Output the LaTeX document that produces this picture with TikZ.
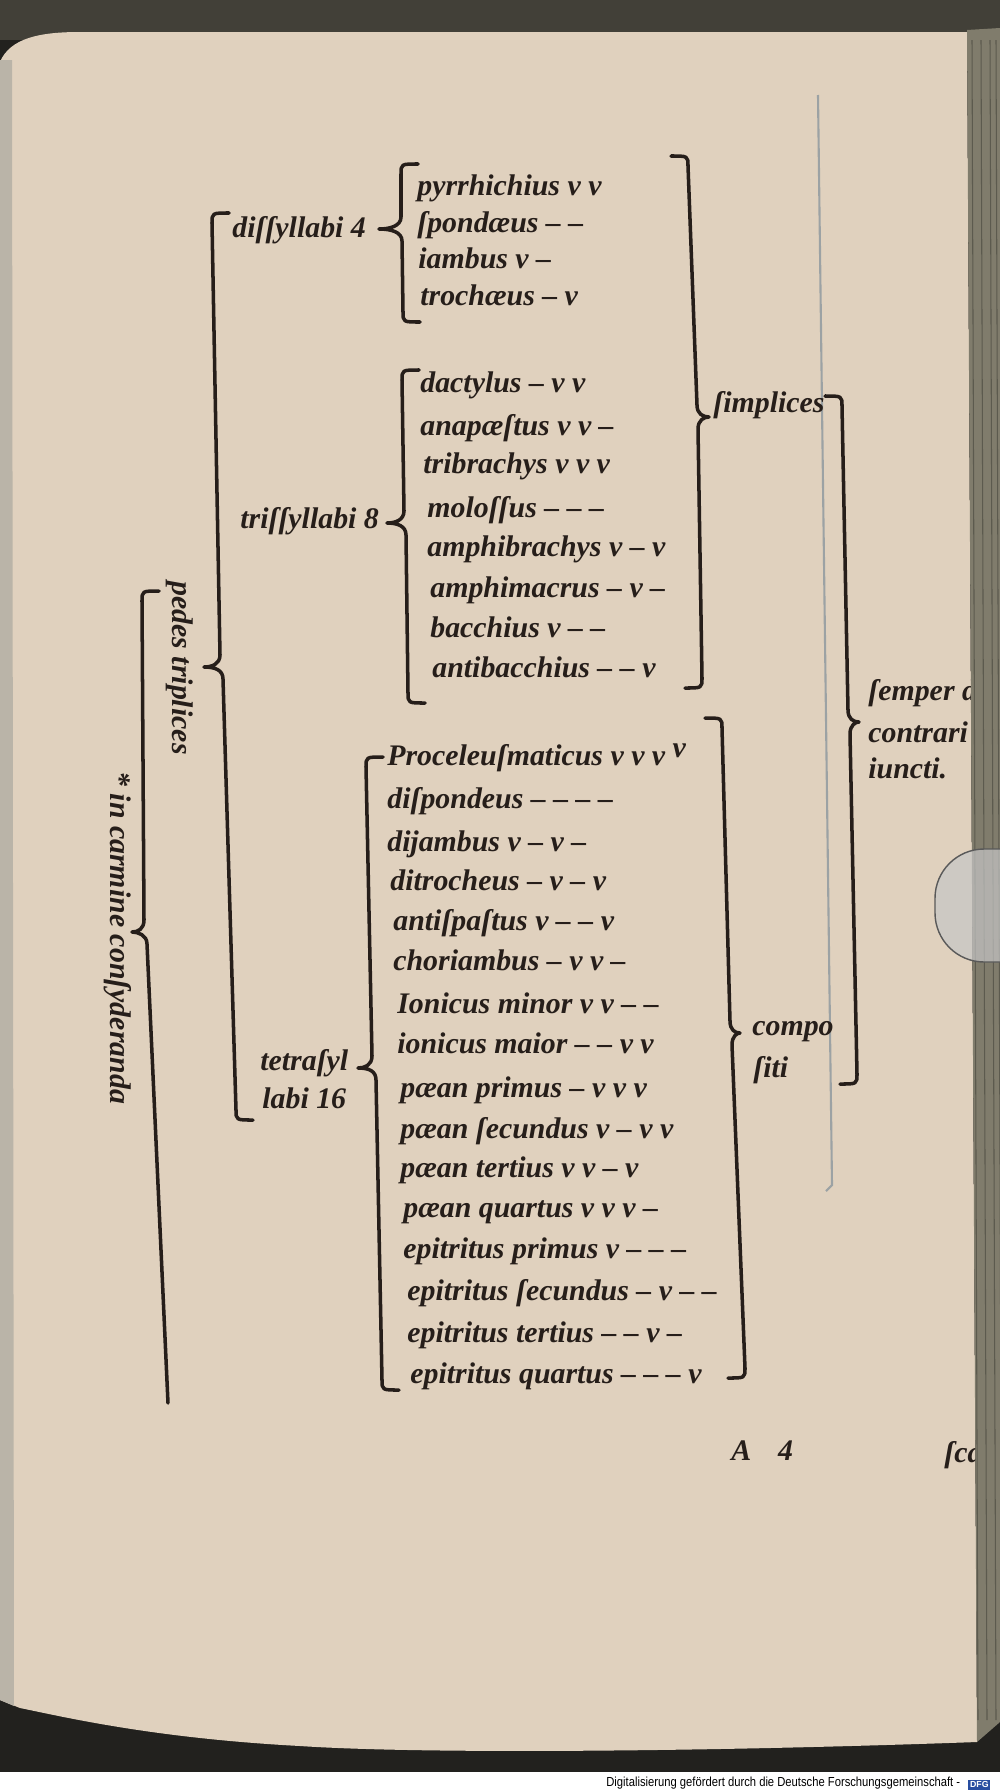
\documentclass[tikz,border=0pt]{standalone}
\usepackage{fontspec}
\setmainfont{Liberation Serif}
\setsansfont{Liberation Sans}
\usepackage{graphicx}
\definecolor{paper}{RGB}{224,209,190}
\definecolor{ink}{RGB}{38,30,26}
\definecolor{darkbg}{RGB}{34,33,30}
\definecolor{topband}{RGB}{66,64,56}
\definecolor{edgegray}{RGB}{128,124,108}
\definecolor{edgeline}{RGB}{92,90,78}
\definecolor{leftedge}{RGB}{186,180,168}
\definecolor{ruleline}{RGB}{156,162,164}
\definecolor{dfgblue}{RGB}{40,78,160}
\newcommand\mybrace[9]{%
  \draw[bracestroke] ({#2-(#1)*17},{#3}) .. controls ({#2},{#3}) .. ({#2},{#3+10})
    -- ({#4},{#5-12}) .. controls ({#4},{#5-3}) and ({#4+(#1)*(#9)*0.5},{#5}) .. ({#4+(#1)*(#9)},{#5})
    .. controls ({#6+(#1)*(#9)*0.5},{#5}) and ({#6},{#5+3}) .. ({#6},{#5+12})
    -- ({#7},{#8-10}) .. controls ({#7},{#8}) .. ({#7-(#1)*17},{#8});}
\begin{document}
\begin{tikzpicture}[x=0.02cm,y=-0.02cm,
  item/.style={anchor=base west, inner sep=0pt, text=ink,
    font=\fontsize{17}{20}\selectfont\bfseries\itshape},
  vtext/.style={item, rotate=-90},
  bracestroke/.style={draw=ink, line width=2pt, line cap=round, line join=round}]
\useasboundingbox (0,0) rectangle (1000,1792);
% page and surroundings
\fill[darkbg] (0,0) rectangle (1000,1792);
\fill[topband] (0,0) rectangle (1000,40);
\fill[paper] (0,62) .. controls (10,38) and (40,32) .. (80,32) -- (967,32) -- (977,1742)
  .. controls (700,1752) and (420,1754) .. (300,1746) .. controls (150,1738) and (60,1716) .. (20,1708)
  -- (0,1700) -- cycle;
\fill[leftedge] (0,60) -- (12,60) -- (14,1706) -- (0,1700) -- cycle;
\fill[white] (0,1772) rectangle (1000,1792);
% faint ruled line
\draw[ruleline, line width=1.2pt] (818,95) -- (832,1185) -- (826,1191);
% braces
\mybrace{-1}{212}{213}{220}{667}{223}{236}{1120}{16}
\draw[bracestroke] (159,591) .. controls (142,591) .. (142,601) -- (144,920)
  .. controls (144,929) and (138,932) .. (132,932) .. controls (138,932) and (147,935) .. (147,944)
  -- (168,1403);
\mybrace{-1}{401}{164}{401}{229}{402}{403}{322}{22}
\mybrace{-1}{402}{370}{404}{523}{406}{408}{703}{17}
\mybrace{-1}{366}{757}{372}{1068}{376}{382}{1390}{14}
\mybrace{1}{688}{156}{697}{417}{698}{702}{688}{12}
\mybrace{1}{722}{718}{730}{1033}{732}{745}{1378}{10}
\mybrace{1}{842}{396}{848}{722}{850}{857}{1084}{11}
% group labels
\node[item] (dis) at (232,237) {diſſyllabi 4};
\node[item] (tri) at (240,528) {triſſyllabi 8};
\node[item] (tetA) at (260,1070) {tetraſyl};
\node[item] (tetB) at (262,1108) {labi 16};
\node[item] (simp) at (713,412) {ſimplices};
\node[item] (compA) at (752,1035) {compo};
\node[item] (compB) at (753,1077) {ſiti};
\node[vtext] (pedes) at (172,581) {pedes triplices};
\node[vtext] (carm) at (110,771) {* in carmine conſyderanda};
% feet
\foreach \nm/\xx/\yy/\tx in {
  a1/417/195/{pyrrhichius v v},
  a2/417/232/{ſpondæus – –},
  a3/418/268/{iambus v –},
  a4/420/305/{trochæus – v},
  b1/420/392/{dactylus – v v},
  b2/420/435/{anapæſtus v v –},
  b3/423/473/{tribrachys v v v},
  b4/427/517/{moloſſus – – –},
  b5/427/556/{amphibrachys v – v},
  b6/430/597/{amphimacrus – v –},
  b7/430/637/{bacchius v – –},
  b8/432/677/{antibacchius – – v},
  c1/387/765/{Proceleuſmaticus v v v \raisebox{4pt}{v}},
  c2/387/808/{diſpondeus – – – –},
  c3/387/851/{dĳambus v – v –},
  c4/390/890/{ditrocheus – v – v},
  c5/393/930/{antiſpaſtus v – – v},
  c6/393/970/{choriambus – v v –},
  c7/397/1013/{Ionicus minor v v – –},
  c8/397/1053/{ionicus maior – – v v},
  c9/400/1097/{pæan primus – v v v},
  c10/400/1138/{pæan ſecundus v – v v},
  c11/400/1177/{pæan tertius v v – v},
  c12/403/1217/{pæan quartus v v v –},
  c13/403/1258/{epitritus primus v – – –},
  c14/407/1300/{epitritus ſecundus – v – –},
  c15/407/1342/{epitritus tertius – – v –},
  c16/410/1383/{epitritus quartus – – – v}}
{\node[item] (\nm) at (\xx,\yy) {\tx};}
% right margin note (cut by the binding)
\node[item] (semA) at (868,700) {ſemper d};
\node[item] (semB) at (868,742) {contrari};
\node[item] (semC) at (868,778) {iuncti.};
% page number and catchword
\node[item] (pnum) at (731,1460) {A\hspace{0.9em}4};
\node[item] (catch) at (944,1462) {ſca};
% binding edge drawn over the cut text
\fill[edgegray] (967,30) -- (1000,28) -- (1000,1722) -- (977,1742) -- cycle;
\foreach \lx in {972,981,990,996}{\draw[edgeline, line width=0.6pt] (\lx,40) -- ({\lx+6},1720);}
% bookmark tab
\draw[fill=gray!45, fill opacity=0.7, draw=gray!70!black, line width=0.8pt, rounded corners=28]
  (1010,849) -- (935,849) -- (935,962) -- (1010,962);
% digitisation credit
\node[anchor=south west, inner sep=0pt] (credit) at (606,1790)
  {\resizebox{7.08cm}{0.19cm}{\sffamily Digitalisierung gefördert durch die Deutsche Forschungsgemeinschaft -}};
\node[anchor=south west, inner sep=1pt, fill=dfgblue, text=white,
  font=\sffamily\bfseries\fontsize{5}{5}\selectfont] (dfg) at (968,1790) {DFG};
\end{tikzpicture}
\end{document}
